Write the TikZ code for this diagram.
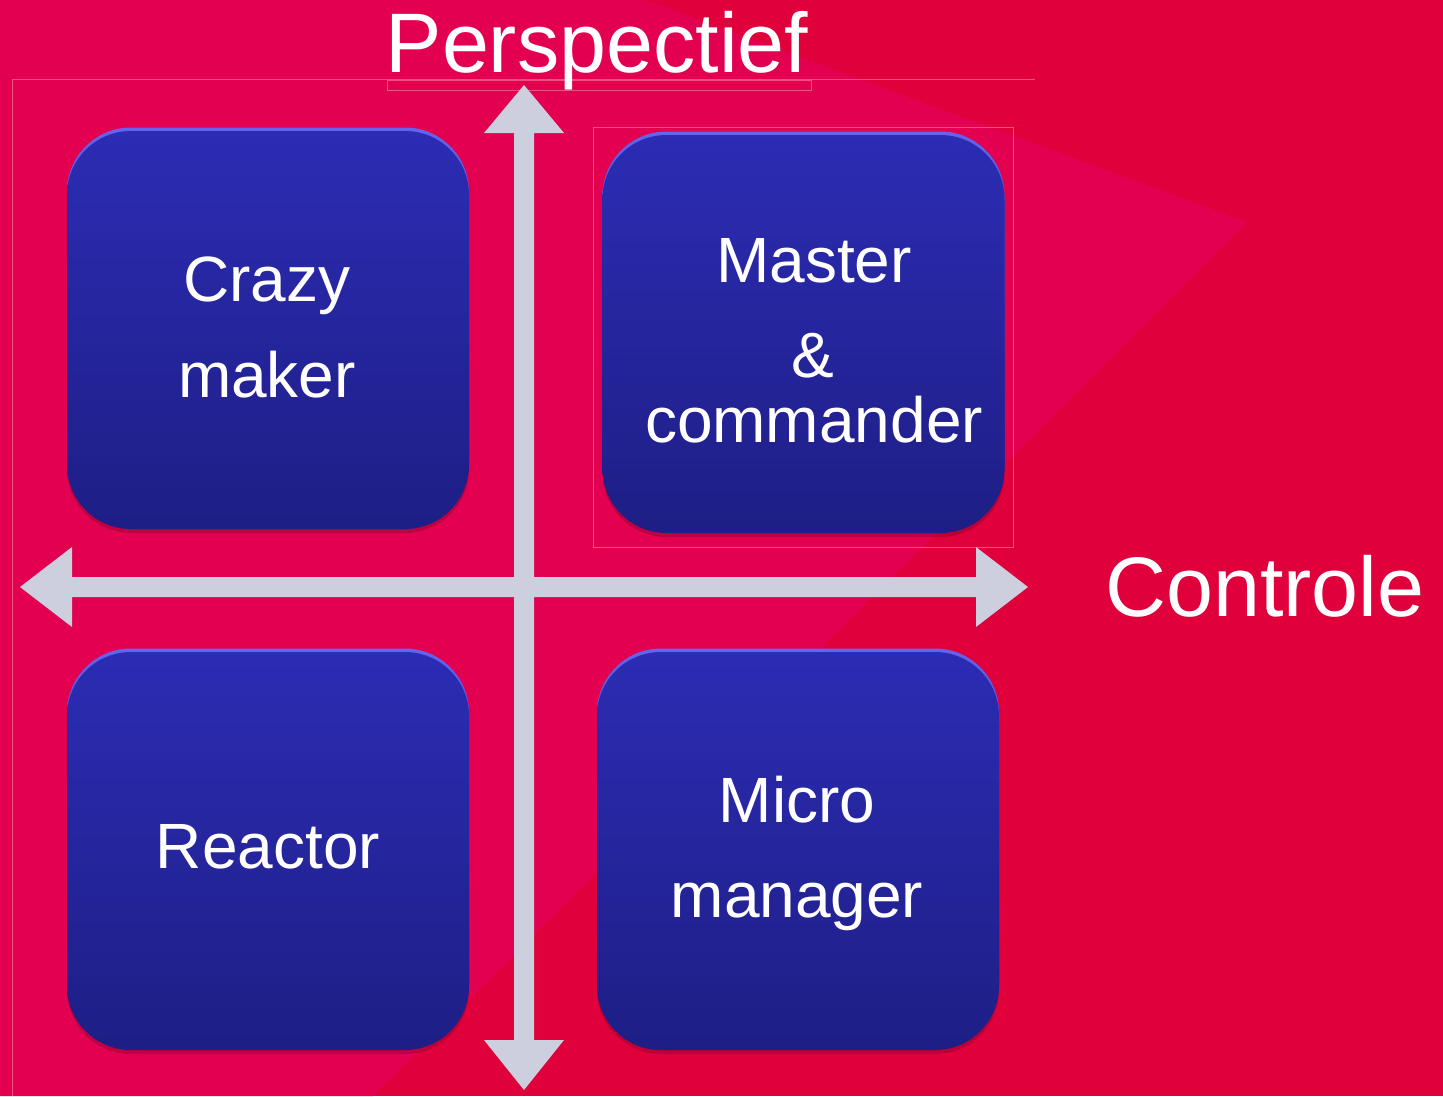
\documentclass[tikz,border=0pt]{standalone}
\usepackage{fontspec}
\setmainfont{Liberation Sans}
\usetikzlibrary{calc,shadows}
\definecolor{bgdark}{RGB}{224,0,60}
\definecolor{bglight}{RGB}{228,0,80}
\definecolor{boxtop}{RGB}{44,44,180}
\definecolor{boxbot}{RGB}{30,30,134}
\definecolor{boxrim}{RGB}{100,100,236}
\definecolor{axiscol}{RGB}{206,207,222}
\definecolor{guidecol}{RGB}{240,80,125}
\definecolor{shadowcol}{RGB}{120,0,40}
\begin{document}
\begin{tikzpicture}[x=1pt,y=-1pt,
  quad/.style={rounded corners=64pt, minimum width=402pt, minimum height=398pt, inner sep=0pt,
    top color=boxtop, bottom color=boxbot,
    drop shadow={shadow xshift=0pt, shadow yshift=-4pt, opacity=0.35, fill=shadowcol},
    preaction={top color=boxrim, bottom color=boxbot!80!black, transform canvas={yshift=3.5pt}}},
  boxtext/.style={text=white, font=\fontsize{64}{64}\selectfont, anchor=base, inner sep=0pt},
  axistext/.style={text=white, font=\fontsize{84.5}{84.5}\selectfont, anchor=base, inner sep=0pt},
  guide/.style={draw=guidecol, line width=0.8pt},
  axisfill/.style={fill=axiscol},
  axisshadow/.style={fill=shadowcol, opacity=0.25}
]
\useasboundingbox (0,0) rectangle (1443,1096);
% background
\fill[bgdark] (0,0) rectangle (1443,1096);
\fill[bglight] (0,0) -- (645,0) -- (1247,222) -- (373,1096) -- (0,1096) -- cycle;
% faint guide outlines
\draw[guide] (1035,79.5) -- (12.5,79.5) -- (12.5,1096);
\draw[guide] (387,80) rectangle (811,90);
\draw[guide] (593,127) rectangle (1013,547);
% boxes
\node[quad] (cm) at (268,330) {};
\node[quad] (mc) at (803.5,334) {};
\node[quad] (re) at (268,851) {};
\node[quad] (mm) at (798,851) {};
% box texts
\node[boxtext] (cm1) at (267,301) {Crazy};
\node[boxtext] (cm2) at (267,397) {maker};
\node[boxtext] (mc1) at (814,282) {Master};
\node[boxtext] (mc2) at (813,377) {\&};
\node[boxtext] (mc3) at (814,442) {commander};
\node[boxtext] (re1) at (268,868) {Reactor};
\node[boxtext] (mm1) at (797,822) {Micro};
\node[boxtext] (mm2) at (797,917) {manager};
% axes
\coordinate (vt) at (524,85);
\coordinate (vb) at (524,1090);
\coordinate (hl) at (20,587);
\coordinate (hr) at (1028,587);
\begin{scope}[shift={(2,3)}]
\fill[axisshadow] (vt) -- ($(vt)+(40,48)$) -- ($(vt)+(10,48)$) -- ($(vb)+(10,-50)$) -- ($(vb)+(40,-50)$) -- (vb)
  -- ($(vb)+(-40,-50)$) -- ($(vb)+(-10,-50)$) -- ($(vt)+(-10,48)$) -- ($(vt)+(-40,48)$) -- cycle;
\fill[axisshadow] (hl) -- ($(hl)+(52,-40)$) -- ($(hl)+(52,-10)$) -- ($(hr)+(-52,-10)$) -- ($(hr)+(-52,-40)$) -- (hr)
  -- ($(hr)+(-52,40)$) -- ($(hr)+(-52,10)$) -- ($(hl)+(52,10)$) -- ($(hl)+(52,40)$) -- cycle;
\end{scope}
\fill[axisfill] (vt) -- ($(vt)+(40,48)$) -- ($(vt)+(10,48)$) -- ($(vb)+(10,-50)$) -- ($(vb)+(40,-50)$) -- (vb)
  -- ($(vb)+(-40,-50)$) -- ($(vb)+(-10,-50)$) -- ($(vt)+(-10,48)$) -- ($(vt)+(-40,48)$) -- cycle;
\fill[axisfill] (hl) -- ($(hl)+(52,-40)$) -- ($(hl)+(52,-10)$) -- ($(hr)+(-52,-10)$) -- ($(hr)+(-52,-40)$) -- (hr)
  -- ($(hr)+(-52,40)$) -- ($(hr)+(-52,10)$) -- ($(hl)+(52,10)$) -- ($(hl)+(52,40)$) -- cycle;
% axis labels
\node[axistext] (persp) at (597,72) {Perspectief};
\node[axistext] (contr) at (1265,616) {Controle};
\end{tikzpicture}
\end{document}
